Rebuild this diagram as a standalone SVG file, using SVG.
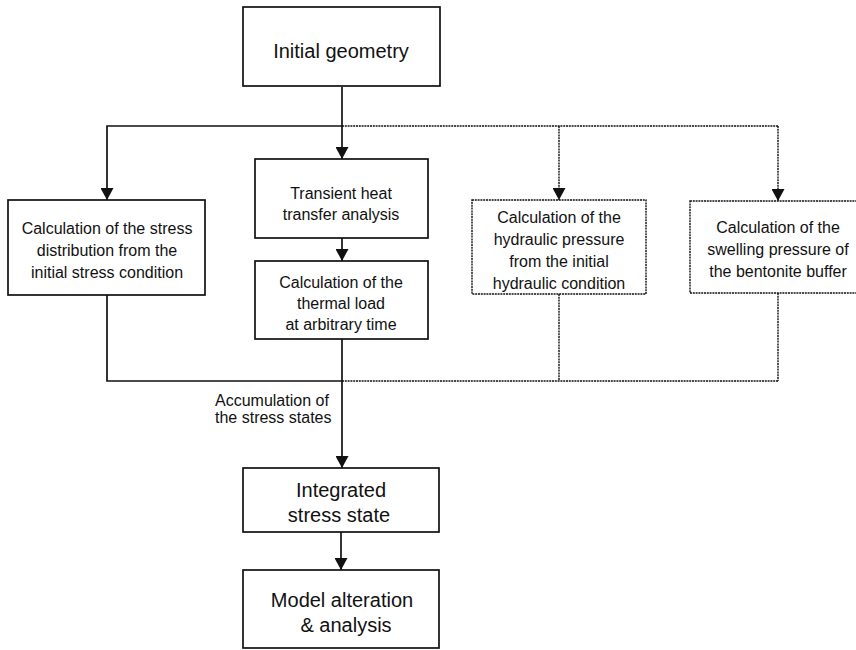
<svg xmlns="http://www.w3.org/2000/svg" width="856" height="650" viewBox="0 0 856 650">
<style>
.box{fill:#fff;stroke:#111;stroke-width:1.7}
.dbox{fill:#fff;stroke:#111;stroke-width:1.4;stroke-dasharray:2 0.8}
.ln{fill:none;stroke:#111;stroke-width:1.7}
.dl{fill:none;stroke:#111;stroke-width:1.4;stroke-dasharray:2 0.8}
.t{font-family:"Liberation Sans",Arial,sans-serif;font-size:16px;fill:#111;text-anchor:middle}
.T{font-family:"Liberation Sans",Arial,sans-serif;font-size:20px;fill:#111;text-anchor:middle}
.lab{font-family:"Liberation Sans",Arial,sans-serif;font-size:16px;fill:#111}
</style>
<defs>
<marker id="ah" markerUnits="userSpaceOnUse" markerWidth="13" markerHeight="13" refX="12" refY="6.5" orient="auto">
<path d="M0,0 L12,6.5 L0,13 z" fill="#111"/>
</marker>
</defs>
<rect width="856" height="650" fill="#fff"/>
<g id="connectors">
<path class="ln" d="M342,87 V159" marker-end="url(#ah)"/>
<path class="ln" d="M342,126 H107 V200" marker-end="url(#ah)"/>
<path class="dl" d="M342,126 H778"/>
<path class="dl" d="M559,126 V200" marker-end="url(#ah)"/>
<path class="dl" d="M778,126 V201" marker-end="url(#ah)"/>
<path class="ln" d="M342,238 V261" marker-end="url(#ah)"/>
<path class="ln" d="M107,295 V381 H342"/>
<path class="ln" d="M342,339 V468" marker-end="url(#ah)"/>
<path class="dl" d="M559,294 V381 M778,293 V381 M342,381 H778"/>
<path class="ln" d="M341,532 V570" marker-end="url(#ah)"/>
</g>
<g id="initial">
<rect class="box" x="243" y="7" width="197" height="79"/>
<text class="T" x="341" y="58">Initial geometry</text>
</g>
<g id="stress-init">
<rect class="box" x="8" y="200" width="197" height="95"/>
<text class="t" x="107" y="234">Calculation of the stress</text>
<text class="t" x="107" y="256">distribution from the</text>
<text class="t" x="107" y="278">initial stress condition</text>
</g>
<g id="transient">
<rect class="box" x="255" y="159" width="173" height="79"/>
<text class="t" x="341" y="199">Transient heat</text>
<text class="t" x="341" y="220">transfer analysis</text>
</g>
<g id="thermal">
<rect class="box" x="255" y="261" width="173" height="78"/>
<text class="t" x="341" y="288">Calculation of the</text>
<text class="t" x="341" y="309">thermal load</text>
<text class="t" x="341" y="330">at arbitrary time</text>
</g>
<g id="hydraulic">
<rect class="dbox" x="472" y="200" width="174" height="94"/>
<text class="t" x="559" y="223">Calculation of the</text>
<text class="t" x="559" y="245">hydraulic pressure</text>
<text class="t" x="559" y="267">from the initial</text>
<text class="t" x="559" y="289">hydraulic condition</text>
</g>
<g id="swelling">
<rect class="dbox" x="690" y="201" width="172" height="92"/>
<text class="t" x="778" y="233">Calculation of the</text>
<text class="t" x="778" y="255">swelling pressure of</text>
<text class="t" x="778" y="277">the bentonite buffer</text>
</g>
<g id="accum-label">
<text class="lab" x="215" y="406">Accumulation of</text>
<text class="lab" x="215" y="423">the stress states</text>
</g>
<g id="integrated">
<rect class="box" x="243" y="468" width="196" height="64"/>
<text class="T" x="341" y="497">Integrated</text>
<text class="T" x="339" y="522">stress state</text>
</g>
<g id="model">
<rect class="box" x="243" y="570" width="196" height="78"/>
<text class="T" x="342" y="607">Model alteration</text>
<text class="T" x="346" y="632">&amp; analysis</text>
</g>
</svg>
